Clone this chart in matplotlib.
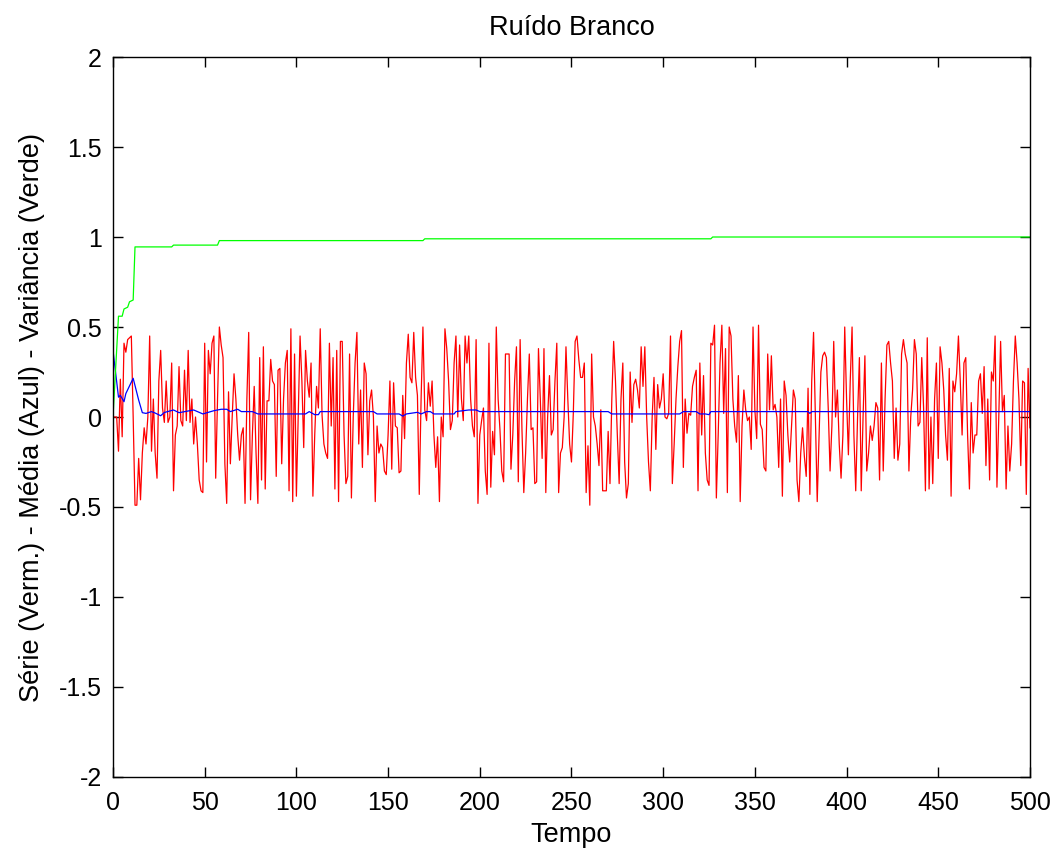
import numpy as np
import matplotlib
matplotlib.use("Agg")
import matplotlib.pyplot as plt

plt.rcParams['font.family'] = ['Liberation Sans', 'DejaVu Sans']
plt.rcParams['axes.unicode_minus'] = False

# serie (vermelho), um valor por instante t = 0..500
serie = (
    [0, 0, 0, -0.19, 0.21, -0.11, 0.41, 0.36, 0.43, 0.44,
     0.45, 0.0, -0.49, -0.49, -0.23, -0.46, -0.2, -0.06, -0.15, 0.0,
     0.45, -0.19, 0.1, -0.2, -0.34, 0.2, 0.37, 0.05, -0.03, 0.2,
     -0.03, 0.0, 0.3, -0.41, -0.1, -0.05, 0.28, -0.02, -0.05, 0.26,
     -0.02, 0.37, -0.03, 0.1, -0.15]
    + [0.0, -0.15, -0.35, -0.41, -0.42, 0.41, -0.25, 0.37, 0.24, 0.41,
       0.45, -0.34, 0.1, 0.5, 0.4, 0.33, -0.26, -0.48, 0.14, -0.26,
       0.0, 0.24, 0.1, -0.1, -0.24, -0.1, -0.06, -0.48, 0.1, 0.47,
       -0.46, -0.1, 0.17, -0.2, -0.48, 0.33, -0.35, 0.39, -0.4, 0.09,
       0.09, 0.32, 0.2, 0.18, -0.33, 0.26]
    + [0.27, -0.26, 0.1, 0.3, 0.37, -0.41, 0.49, -0.47, 0.35, -0.44,
       0.0, 0.45, 0.2, -0.17, 0.37, 0.2, 0.11, 0.3, -0.44, -0.1,
       0.17, 0.05, 0.49, 0.01, -0.15, -0.2, -0.23, 0.41, -0.05, 0.33,
       -0.4, 0.37, -0.47, 0.42, 0.42, -0.1, -0.37, -0.33, 0.35, -0.45,
       0.0, 0.3, 0.47, -0.15, 0.15, -0.28]
    + [0.3, 0.24, -0.21, 0.09, 0.15, 0.0, -0.47, -0.05, -0.2, -0.15,
       -0.17, -0.3, -0.32, -0.1, 0.2, -0.29, 0.19, -0.05, -0.06, -0.31,
       -0.3, 0.12, -0.12, 0.3, 0.46, 0.22, 0.19, 0.47, 0.22, 0.12,
       -0.43, 0.1, 0.5, 0.04, -0.02, 0.19, 0.06, 0.2, -0.1, -0.28,
       -0.11, -0.47, 0.0, -0.11, 0.49]
    + [0.38, 0.2, -0.07, -0.02, 0.3, 0.45, 0.0, 0.4, 0.1, -0.02,
       0.45, 0.3, 0.45, 0.1, -0.05, -0.11, 0.43, -0.48, -0.1, -0.02,
       0.05, -0.3, -0.43, 0.41, -0.39, -0.08, -0.21, 0.5, 0.1, -0.07,
       -0.3, -0.36, 0.35, 0.35, 0.35, -0.29, -0.1, 0.2, 0.39, -0.36,
       0.43, -0.07, -0.42, -0.2, 0.1, 0.35, -0.07]
    + [-0.06, -0.37, -0.36, 0.38, 0.1, -0.23, 0.38, -0.42, 0.0, 0.23,
       -0.1, -0.07, 0.2, 0.41, -0.42, -0.2, -0.17, 0.0, 0.39, 0.1,
       -0.15, -0.25, 0.02, 0.42, 0.45, 0.32, 0.22, 0.22, 0.3, -0.42,
       -0.16, -0.49, 0.35, 0.0, -0.05, -0.15, -0.27, 0.04, -0.41, -0.41,
       -0.41, -0.08, -0.37, 0.1, 0.42]
    + [0.2, -0.1, -0.37, 0.1, 0.3, -0.25, -0.45, -0.37, 0.25, -0.03,
       0.18, 0.21, 0.15, 0.05, 0.39, 0.17, 0.39, 0.0, -0.25, -0.41,
       0.0, 0.22, -0.18, 0.18, 0.05, 0.1, 0.24, 0.0, -0.01, 0.02,
       0.45, -0.37, -0.15, 0.1, 0.28, 0.42, 0.48, -0.28, 0.1, -0.09,
       0.02, 0.01, 0.17, 0.22, 0.26, -0.41]
    + [0.3, -0.1, 0.23, -0.2, -0.35, -0.38, 0.41, 0.4, 0.51, -0.45,
       -0.1, 0.3, 0.51, 0.02, 0.38, -0.42, 0.5, 0.45, 0.1, -0.05,
       -0.14, 0.23, -0.47, -0.05, 0.15, 0.04, -0.02, 0.0, -0.18, 0.5,
       0.04, -0.12, 0.51, -0.04, -0.07, -0.28, -0.3, 0.35, 0.04, 0.34,
       0.04, 0.07, 0.0, -0.28, 0.1, -0.44]
    + [0.2, 0.12, -0.1, -0.25, -0.05, 0.15, 0.1, -0.35, -0.47, -0.2,
       -0.06, -0.22, -0.33, 0.16, -0.43, 0.2, 0.47, 0.0, -0.47, -0.1,
       0.25, 0.34, 0.36, 0.33, 0.05, -0.3, -0.05, 0.42, 0.0, 0.15,
       -0.15, -0.34, -0.1, 0.5, 0.1, -0.21, 0.2, 0.5, -0.1, -0.41,
       0.0, 0.33, -0.41, 0.0, 0.34, -0.3]
    + [-0.2, -0.05, -0.13, -0.05, 0.08, 0.05, -0.35, 0.3, -0.3, 0.1,
       0.4, 0.42, 0.3, 0.2, -0.23, 0.05, -0.24, -0.15, 0.35, 0.43,
       0.35, 0.3, -0.3, 0.0, 0.15, 0.43, 0.35, -0.05, -0.03, 0.33,
       0.05, -0.41, 0.44, -0.4, 0.0, -0.37, 0.1, 0.3, -0.23, 0.39,
       0.3, 0.15, -0.1, -0.24, 0.27, -0.44]
    + [0.2, 0.14, 0.24, 0.45, 0.2, -0.1, 0.3, 0.33, -0.1, -0.4,
       0.08, -0.2, -0.1, -0.1, 0.2, 0.24, 0.02, 0.28, -0.27, 0.1,
       -0.35, 0.25, 0.2, 0.45, -0.39, 0.0, 0.42, 0.03, 0.12, -0.4,
       -0.05, -0.3, -0.15, 0.2, 0.45, 0.3, 0.1, -0.27, 0.2, 0.19,
       -0.43, 0.27, -0.06]
)
t_serie = np.arange(len(serie))

t_media = [0, 3, 4, 6, 7, 11, 14, 16, 18, 21, 23, 26, 28, 33, 36, 44, 49, 55,
           59, 62, 64, 68, 70, 76, 79, 105, 107, 110, 112, 113, 142, 144, 156,
           158, 160, 166, 168, 171, 173, 175, 186, 187, 194, 198, 200, 270,
           272, 309, 311, 318, 320, 323, 325, 326, 379, 380, 381, 500]
media = [0.37, 0.11, 0.12, 0.085, 0.13, 0.215, 0.094, 0.024, 0.02, 0.03,
         0.022, 0.007, 0.025, 0.039, 0.024, 0.039, 0.017, 0.035, 0.043, 0.043,
         0.03, 0.043, 0.03, 0.03, 0.017, 0.017, 0.03, 0.013, 0.013, 0.03,
         0.03, 0.017, 0.017, 0.005, 0.017, 0.026, 0.017, 0.03, 0.03, 0.017,
         0.017, 0.03, 0.039, 0.039, 0.03, 0.03, 0.017, 0.017, 0.03, 0.03,
         0.017, 0.017, 0.013, 0.03, 0.03, 0.02, 0.03, 0.03]

# variancia (verde)
t_var = [0, 3, 5, 6, 8, 9, 11, 12, 32, 33, 57, 58, 169, 170, 326, 327, 500]
variancia = [0, 0.56, 0.56, 0.6, 0.61, 0.64, 0.65, 0.945, 0.945, 0.955,
             0.955, 0.98, 0.98, 0.99, 0.99, 1.0, 1.0]

fig = plt.figure(figsize=(10.64, 8.56), dpi=100)
ax = fig.add_axes([0.1062, 0.0923, 0.8618, 0.8411])

ax.plot(t_serie, serie, color=(1, 0, 0), lw=0.9)
ax.plot(t_media, media, color=(0, 0, 1), lw=0.9)
ax.plot(t_var, variancia, color=(0, 1, 0), lw=0.9)

ax.set_xlim(0, 500)
ax.set_ylim(-2, 2)
ax.set_xticks(np.arange(0, 501, 50))
ax.set_yticks(np.arange(-2, 2.01, 0.5))
ax.set_yticklabels(['-2', '-1.5', '-1', '-0.5', '0', '0.5', '1', '1.5', '2'])
ax.tick_params(direction='in', length=7, width=1, top=True, right=True,
               labelsize=18)
ax.tick_params(axis='x', pad=10)
ax.tick_params(axis='y', pad=8)
for s in ax.spines.values():
    s.set_linewidth(1)

ax.set_title('Ruído Branco', fontsize=19.5, pad=16)
ax.set_xlabel('Tempo', fontsize=19.5, labelpad=5)
ax.set_ylabel('Série (Verm.) - Média (Azul) - Variância (Verde)', fontsize=19.5,
              labelpad=10)

fig.savefig('out.png', dpi=100)
